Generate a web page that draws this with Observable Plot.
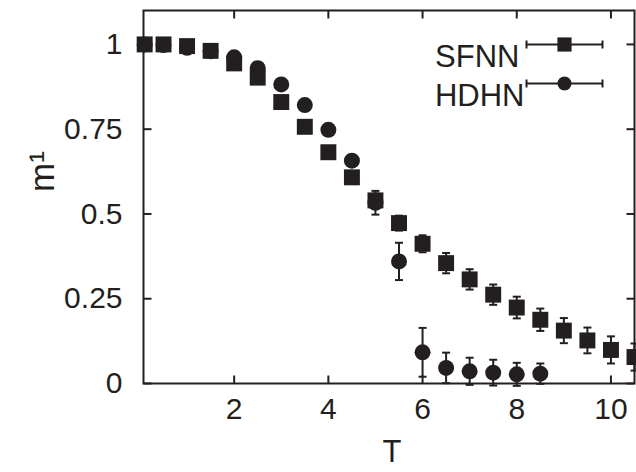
<!DOCTYPE html>
<html>
<head>
<meta charset="utf-8">
<script src="https://cdn.jsdelivr.net/npm/d3@7"></script>
<script src="https://cdn.jsdelivr.net/npm/@observablehq/plot@0.6"></script>
<style>
  html, body { margin: 0; padding: 0; background: #fff; }
  #chart { width: 636px; height: 472px; overflow: hidden; }
</style>
</head>
<body>
<div id="chart"></div>
<script>
// ---- data ----
const sfnnT = [0.1, 0.5, 1.0, 1.5, 2.0, 2.5, 3.0, 3.5, 4.0, 4.5, 5.0, 5.5, 6.0, 6.5, 7.0, 7.5, 8.0, 8.5, 9.0, 9.5, 10.0, 10.5];
const sfnnM = [1.0, 1.0, 0.995, 0.981, 0.944, 0.902, 0.830, 0.757, 0.682, 0.608, 0.540, 0.473, 0.412, 0.355, 0.307, 0.262, 0.224, 0.188, 0.156, 0.127, 0.099, 0.078];
const sfnnErr = [0.002, 0.002, 0.003, 0.004, 0.005, 0.007, 0.008, 0.010, 0.012, 0.015, 0.020, 0.022, 0.025, 0.030, 0.030, 0.030, 0.032, 0.033, 0.037, 0.038, 0.040, 0.040];

const hdhnT = [0.1, 0.5, 1.0, 1.5, 2.0, 2.5, 3.0, 3.5, 4.0, 4.5, 5.0, 5.5, 6.0, 6.5, 7.0, 7.5, 8.0, 8.5];
const hdhnM = [1.0, 0.998, 0.990, 0.980, 0.962, 0.930, 0.882, 0.821, 0.748, 0.657, 0.533, 0.360, 0.092, 0.046, 0.036, 0.032, 0.027, 0.029];
const hdhnErr = [0.002, 0.002, 0.003, 0.004, 0.005, 0.006, 0.008, 0.010, 0.012, 0.015, 0.035, 0.055, 0.072, 0.045, 0.040, 0.038, 0.034, 0.030];

const seriesNames = ["SFNN", "HDHN"];
const xTicks = [2, 4, 6, 8, 10];
const yTicks = [0, 0.25, 0.5, 0.75, 1];
const xLabel = "T";
const yLabel = "m\u00B9";

// ---- build tables ----
const sfnn = sfnnT.map((t, i) => ({T: t, m: sfnnM[i], e: sfnnErr[i]}));
const hdhn = hdhnT.map((t, i) => ({T: t, m: hdhnM[i], e: hdhnErr[i]}));

const ink = "#231f20";
const sym = (f) => ({draw(ctx) { f(ctx); }});
const tickUp = sym(c => { c.moveTo(0, 0); c.lineTo(0, -8); });
const tickDown = sym(c => { c.moveTo(0, 0); c.lineTo(0, 8); });
const tickRight = sym(c => { c.moveTo(0, 0); c.lineTo(8, 0); });
const tickLeft = sym(c => { c.moveTo(0, 0); c.lineTo(-8, 0); });
const cap = sym(c => { c.moveTo(-4, 0); c.lineTo(4, 0); });
const legendBar = sym(c => {
  c.moveTo(-38, 0); c.lineTo(38, 0);
  c.moveTo(-38, -4); c.lineTo(-38, 4);
  c.moveTo(38, -4); c.lineTo(38, 4);
});

function errMarks(data) {
  return [
    Plot.ruleX(data, {x: "T", y1: d => d.m - d.e, y2: d => d.m + d.e, stroke: ink, strokeWidth: 2}),
    Plot.dot(data, {x: "T", y: d => d.m + d.e, symbol: cap, fill: "none", stroke: ink, strokeWidth: 2}),
    Plot.dot(data, {x: "T", y: d => d.m - d.e, symbol: cap, fill: "none", stroke: ink, strokeWidth: 2})
  ];
}

const legendRows = seriesNames.map((name, i) => ({name, i}));

const chart = Plot.plot({
  width: 636,
  height: 472,
  marginTop: 10,
  marginBottom: 89,
  marginLeft: 143,
  marginRight: 2,
  style: {fontFamily: "'Liberation Sans', Arial, Helvetica, sans-serif", fontSize: "30px", color: ink, background: "#fff", overflow: "visible"},
  x: {domain: [0.075, 10.5]},
  y: {domain: [0, 1.1]},
  marks: [
    Plot.frame({stroke: ink, strokeWidth: 2}),
    Plot.axisX({ticks: xTicks, tickSize: 0, tickPadding: 14, tickFormat: d => String(d), label: null, fontSize: 30}),
    Plot.axisY({ticks: yTicks, tickSize: 0, tickPadding: 21, tickFormat: d => String(d), label: null, fontSize: 30}),
    // inward ticks on all four sides
    Plot.dot(xTicks, {x: d => d, frameAnchor: "bottom", symbol: tickUp, fill: "none", stroke: ink, strokeWidth: 2}),
    Plot.dot(xTicks, {x: d => d, frameAnchor: "top", symbol: tickDown, fill: "none", stroke: ink, strokeWidth: 2}),
    Plot.dot(yTicks, {y: d => d, frameAnchor: "left", symbol: tickRight, fill: "none", stroke: ink, strokeWidth: 2}),
    Plot.dot(yTicks, {y: d => d, frameAnchor: "right", symbol: tickLeft, fill: "none", stroke: ink, strokeWidth: 2}),
    // axis labels
    Plot.text([xLabel], {frameAnchor: "bottom", dx: 3, dy: 78, text: d => d, fontSize: 31, fill: ink}),
    Plot.text([yLabel], {frameAnchor: "left", dx: -101, dy: -5, rotate: -90, text: d => d, fontSize: 35, fill: ink}),
    // data
    ...errMarks(sfnn),
    ...errMarks(hdhn),
    Plot.dot(sfnn, {x: "T", y: "m", symbol: "square", r: 9, fill: ink, stroke: "none"}),
    Plot.dot(hdhn, {x: "T", y: "m", symbol: "circle", r: 8, fill: ink, stroke: "none"}),
    // legend
    Plot.text([legendRows[0]], {frameAnchor: "top-right", text: "name", textAnchor: "end", dx: -115, dy: 34, fill: ink, fontSize: 31}),
    Plot.text([legendRows[1]], {frameAnchor: "top-right", text: "name", textAnchor: "end", dx: -110, dy: 73, fill: ink, fontSize: 31}),
    Plot.dot([legendRows[0]], {frameAnchor: "top-right", dx: -70, dy: 34, symbol: legendBar, fill: "none", stroke: ink, strokeWidth: 2}),
    Plot.dot([legendRows[1]], {frameAnchor: "top-right", dx: -70, dy: 73, symbol: legendBar, fill: "none", stroke: ink, strokeWidth: 2}),
    Plot.dot([legendRows[0]], {frameAnchor: "top-right", dx: -70, dy: 34, symbol: "square", r: 8, fill: ink, stroke: "none"}),
    Plot.dot([legendRows[1]], {frameAnchor: "top-right", dx: -70, dy: 73, symbol: "circle", r: 7, fill: ink, stroke: "none"})
  ]
});
document.getElementById("chart").appendChild(chart);
</script>
</body>
</html>
